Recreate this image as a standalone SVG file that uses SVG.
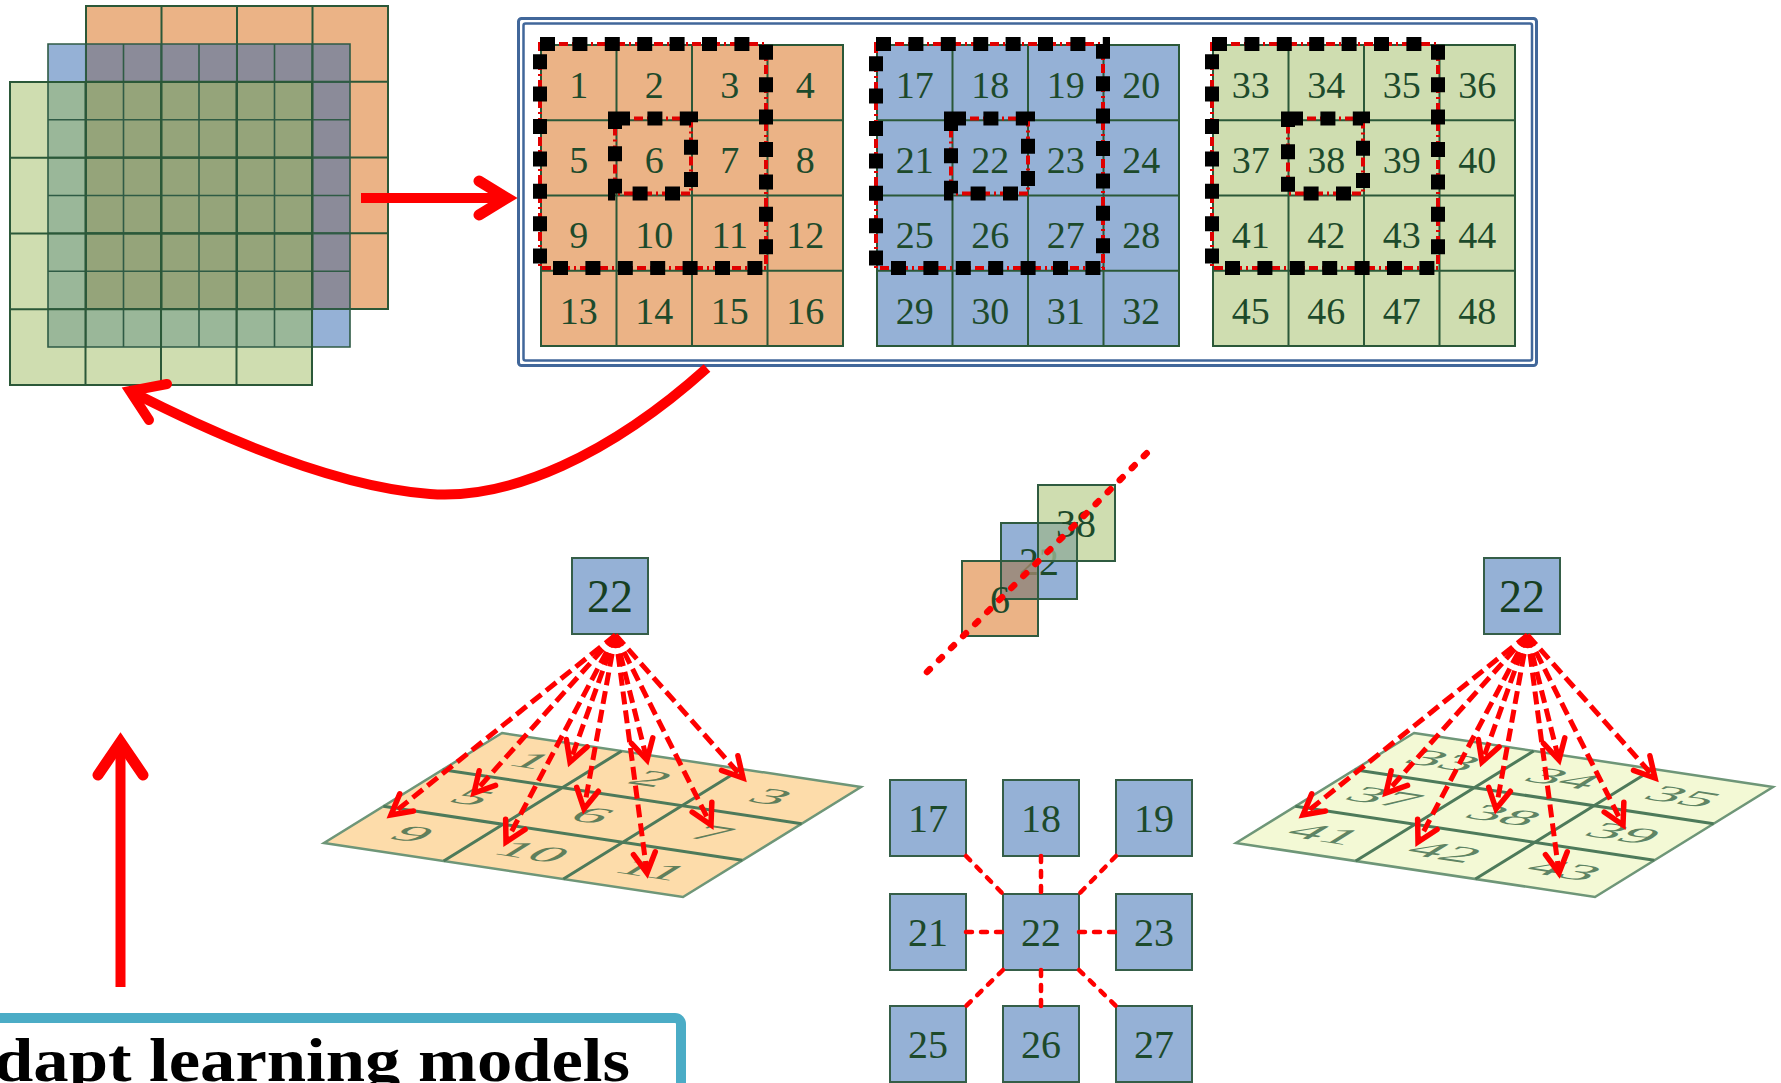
<svg xmlns="http://www.w3.org/2000/svg" width="1781" height="1083" viewBox="0 0 1781 1083">
<defs>
<style>
.num{font-family:"Liberation Serif","Times New Roman",serif;fill:#1D4A2B;text-anchor:middle}
.g38{font-size:38px}
.g40{font-size:40px}
.pl{font-size:32px;fill:#3A6848;opacity:.8}
.gl{fill:none;stroke:#2B5838;stroke-width:2}
.bl{fill:none;stroke:#2F5B45;stroke-width:1.6}
.fb{fill:none;stroke:#000;stroke-width:14;stroke-dasharray:15 17.4}
.fr{fill:none;stroke:#E00000;stroke-width:4;stroke-dasharray:9 4 2 4}
.box{fill:#95B1D6;stroke:#355E48;stroke-width:2}
.ol{fill:none;stroke:#2F5B40;stroke-width:2}
.fan{fill:none;stroke:#FF0000;stroke-width:5;stroke-dasharray:13 6;marker-end:url(#ah)}
.nb{fill:none;stroke:#FF0000;stroke-width:4.5;stroke-dasharray:6 9;stroke-linecap:round}
.red{fill:none;stroke:#FF0000;stroke-width:10}
.head{fill:none;stroke:#FF0000;stroke-linecap:round;stroke-linejoin:miter;stroke-miterlimit:10}
</style>
<marker id="ah" markerUnits="userSpaceOnUse" viewBox="-28 -18 38 36" markerWidth="38" markerHeight="36" refX="0" refY="0" orient="auto" overflow="visible">
<path d="M-20,-11 L0,0 L-20,11" fill="none" stroke="#FF0000" stroke-width="5.5" stroke-linecap="round"/>
</marker>
</defs>
<rect width="1781" height="1083" fill="#fff"/>

<g id="layers">
<rect x="86" y="6" width="302" height="38" fill="#EBB386"/>
<rect x="350" y="44" width="38" height="265" fill="#EBB386"/>
<rect x="48" y="44" width="38" height="38" fill="#95B1D6"/>
<rect x="312" y="309" width="38" height="38" fill="#95B1D6"/>
<rect x="86" y="44" width="264" height="38" fill="#8B8B99"/>
<rect x="312" y="82" width="38" height="227" fill="#8B8B99"/>
<rect x="10" y="82" width="38" height="303" fill="#CFDDB0"/>
<rect x="48" y="347" width="264" height="38" fill="#CFDDB0"/>
<rect x="48" y="82" width="38" height="265" fill="#9AB799"/>
<rect x="86" y="309" width="226" height="38" fill="#9AB799"/>
<rect x="86" y="82" width="226" height="227" fill="#95A47A"/>
<path class="gl" d="M86,6H388V309H86Z M161.5,6V309 M237,6V309 M312.5,6V309 M86,81.75H388 M86,157.5H388 M86,233.25H388"/>
<path class="bl" d="M48,44H350V347H48Z M85.75,44V347 M123.5,44V347 M161.25,44V347 M199,44V347 M236.75,44V347 M274.5,44V347 M312.25,44V347 M48,81.9H350 M48,119.75H350 M48,157.6H350 M48,195.5H350 M48,233.4H350 M48,271.25H350 M48,309.1H350"/>
<path class="gl" d="M10,82H312V385H10Z M85.5,82V385 M161,82V385 M236.5,82V385 M10,157.75H312 M10,233.5H312 M10,309.25H312"/>
</g>

<g id="frame-box">
<rect x="518.5" y="18.5" width="1018" height="347" rx="3" fill="none" stroke="#41679A" stroke-width="3"/>
<rect x="523.5" y="23.5" width="1008.5" height="337" rx="2" fill="none" stroke="#41679A" stroke-width="2.5"/>
</g>

<g id="grid-orange" transform="translate(541,45)">
<rect x="0" y="0" width="302" height="301" fill="#EBB386"/>
<path class="gl" d="M0,0H302V301H0Z M75.5,0V301 M151,0V301 M226.5,0V301 M0,75.25H302 M0,150.5H302 M0,225.75H302"/>
<text class="num g38" x="37.75" y="53">1</text><text class="num g38" x="113.25" y="53">2</text><text class="num g38" x="188.75" y="53">3</text><text class="num g38" x="264.25" y="53">4</text>
<text class="num g38" x="37.75" y="128">5</text><text class="num g38" x="113.25" y="128">6</text><text class="num g38" x="188.75" y="128">7</text><text class="num g38" x="264.25" y="128">8</text>
<text class="num g38" x="37.75" y="203">9</text><text class="num g38" x="113.25" y="203">10</text><text class="num g38" x="188.75" y="203">11</text><text class="num g38" x="264.25" y="203">12</text>
<text class="num g38" x="37.75" y="279">13</text><text class="num g38" x="113.25" y="279">14</text><text class="num g38" x="188.75" y="279">15</text><text class="num g38" x="264.25" y="279">16</text>
<path class="fr" d="M-1,-1H225V223H-1Z"/><path class="fb" d="M-1,-1H225V223H-1Z"/>
<path class="fr" d="M74,73.5H150V148.5H74Z"/><path class="fb" d="M74,73.5H150V148.5H74Z"/>
</g>

<g id="grid-blue" transform="translate(877,45)">
<rect x="0" y="0" width="302" height="301" fill="#95B1D6"/>
<path class="gl" d="M0,0H302V301H0Z M75.5,0V301 M151,0V301 M226.5,0V301 M0,75.25H302 M0,150.5H302 M0,225.75H302"/>
<text class="num g38" x="37.75" y="53">17</text><text class="num g38" x="113.25" y="53">18</text><text class="num g38" x="188.75" y="53">19</text><text class="num g38" x="264.25" y="53">20</text>
<text class="num g38" x="37.75" y="128">21</text><text class="num g38" x="113.25" y="128">22</text><text class="num g38" x="188.75" y="128">23</text><text class="num g38" x="264.25" y="128">24</text>
<text class="num g38" x="37.75" y="203">25</text><text class="num g38" x="113.25" y="203">26</text><text class="num g38" x="188.75" y="203">27</text><text class="num g38" x="264.25" y="203">28</text>
<text class="num g38" x="37.75" y="279">29</text><text class="num g38" x="113.25" y="279">30</text><text class="num g38" x="188.75" y="279">31</text><text class="num g38" x="264.25" y="279">32</text>
<path class="fr" d="M-1,-1H226V223H-1Z"/><path class="fb" d="M-1,-1H226V223H-1Z"/>
<path class="fr" d="M74,73.5H151V148.5H74Z"/><path class="fb" d="M74,73.5H151V148.5H74Z"/>
</g>

<g id="grid-green" transform="translate(1213,45)">
<rect x="0" y="0" width="302" height="301" fill="#CFDDB0"/>
<path class="gl" d="M0,0H302V301H0Z M75.5,0V301 M151,0V301 M226.5,0V301 M0,75.25H302 M0,150.5H302 M0,225.75H302"/>
<text class="num g38" x="37.75" y="53">33</text><text class="num g38" x="113.25" y="53">34</text><text class="num g38" x="188.75" y="53">35</text><text class="num g38" x="264.25" y="53">36</text>
<text class="num g38" x="37.75" y="128">37</text><text class="num g38" x="113.25" y="128">38</text><text class="num g38" x="188.75" y="128">39</text><text class="num g38" x="264.25" y="128">40</text>
<text class="num g38" x="37.75" y="203">41</text><text class="num g38" x="113.25" y="203">42</text><text class="num g38" x="188.75" y="203">43</text><text class="num g38" x="264.25" y="203">44</text>
<text class="num g38" x="37.75" y="279">45</text><text class="num g38" x="113.25" y="279">46</text><text class="num g38" x="188.75" y="279">47</text><text class="num g38" x="264.25" y="279">48</text>
<path class="fr" d="M-1,-1H225V223H-1Z"/><path class="fb" d="M-1,-1H225V223H-1Z"/>
<path class="fr" d="M75,73.5H150V148.5H75Z"/><path class="fb" d="M75,73.5H150V148.5H75Z"/>
</g>

<g id="stack">
<rect x="1001" y="523" width="76" height="76" fill="#95B1D6"/>
<text class="num g40" x="1039" y="575">22</text>
<path d="M962,561H1001V599H1038V636H962Z" fill="#EBB386"/>
<rect x="1001" y="561" width="37" height="38" fill="#A0866C" opacity="0.8"/>
<path d="M1038,485H1115V561H1077V523H1038Z" fill="#CFDDB0"/>
<rect x="1038" y="523" width="39" height="38" fill="#9DB693" opacity="0.8"/>
<rect class="ol" x="1001" y="523" width="76" height="76"/>
<rect class="ol" x="962" y="561" width="76" height="75"/>
<rect class="ol" x="1038" y="485" width="77" height="76"/>
<text class="num g40" x="1000" y="613">6</text>
<text class="num g40" x="1076" y="537">38</text>
</g>

<g id="plane-left">
<g transform="matrix(1.9944,0.3,-0.9889,0.6111,502,733)">
<rect x="0" y="0" width="180" height="180" fill="#FDDCAA" stroke="#6E9678" stroke-width="2.5" vector-effect="non-scaling-stroke"/>
<path d="M60,0V180M120,0V180M0,60H180M0,120H180" fill="none" stroke="#4D7A5A" stroke-width="3" vector-effect="non-scaling-stroke"/>
<text class="num pl" x="30" y="41">1</text><text class="num pl" x="90" y="41">2</text><text class="num pl" x="150" y="41">3</text>
<text class="num pl" x="30" y="101">5</text><text class="num pl" x="90" y="101">6</text><text class="num pl" x="150" y="101">7</text>
<text class="num pl" x="30" y="161">9</text><text class="num pl" x="90" y="161">10</text><text class="num pl" x="150" y="161">11</text>
</g>
</g>

<g id="plane-right">
<g transform="translate(912,0) matrix(1.9944,0.3,-0.9889,0.6111,502,733)">
<rect x="0" y="0" width="180" height="180" fill="#F3F9D5" stroke="#6E9678" stroke-width="2.5" vector-effect="non-scaling-stroke"/>
<path d="M60,0V180M120,0V180M0,60H180M0,120H180" fill="none" stroke="#4D7A5A" stroke-width="3" vector-effect="non-scaling-stroke"/>
<text class="num pl" x="30" y="41">33</text><text class="num pl" x="90" y="41">34</text><text class="num pl" x="150" y="41">35</text>
<text class="num pl" x="30" y="101">37</text><text class="num pl" x="90" y="101">38</text><text class="num pl" x="150" y="101">39</text>
<text class="num pl" x="30" y="161">41</text><text class="num pl" x="90" y="161">42</text><text class="num pl" x="150" y="161">43</text>
</g>
</g>

<g id="node-22-left">
<rect class="box" x="572" y="558" width="76" height="76"/>
<text class="num" x="610" y="612" font-size="46" style="fill:#173F22">22</text>
</g>
<g id="node-22-right">
<rect class="box" x="1484" y="558" width="76" height="76"/>
<text class="num" x="1522" y="612" font-size="46" style="fill:#173F22">22</text>
</g>

<g id="neighbors">
<g id="n17"><rect class="box" x="890" y="780" width="76" height="76"/><text class="num g40" x="928" y="832">17</text></g>
<g id="n18"><rect class="box" x="1003" y="780" width="76" height="76"/><text class="num g40" x="1041" y="832">18</text></g>
<g id="n19"><rect class="box" x="1116" y="780" width="76" height="76"/><text class="num g40" x="1154" y="832">19</text></g>
<g id="n21"><rect class="box" x="890" y="894" width="76" height="76"/><text class="num g40" x="928" y="946">21</text></g>
<g id="n22"><rect class="box" x="1003" y="894" width="76" height="76"/><text class="num g40" x="1041" y="946">22</text></g>
<g id="n23"><rect class="box" x="1116" y="894" width="76" height="76"/><text class="num g40" x="1154" y="946">23</text></g>
<g id="n25"><rect class="box" x="890" y="1006" width="76" height="76"/><text class="num g40" x="928" y="1058">25</text></g>
<g id="n26"><rect class="box" x="1003" y="1006" width="76" height="76"/><text class="num g40" x="1041" y="1058">26</text></g>
<g id="n27"><rect class="box" x="1116" y="1006" width="76" height="76"/><text class="num g40" x="1154" y="1058">27</text></g>
</g>

<g id="caption">
<rect x="-20" y="1018" width="701" height="120" rx="6" fill="#fff" stroke="#4BACC6" stroke-width="10"/>
<text x="-6" y="1081" font-family="Liberation Serif, Times New Roman, serif" font-weight="bold" font-size="62" textLength="636" lengthAdjust="spacingAndGlyphs" fill="#000">dapt learning models</text>
</g>

<g id="connectors">
<path class="red" d="M361,198H506"/>
<path class="head" stroke-width="11" d="M479,181L507,198L479,215"/>
<path class="red" d="M707,368C610,455 510,500 430,494C340,487 230,442 132,392"/>
<path class="head" stroke-width="10" d="M167,384L130,391L149,420"/>
<path class="red" stroke-width="11" d="M120.5,987V748"/>
<path class="head" stroke-width="11" d="M98,775L120.5,742L143,775"/>
<path d="M927,672L1153,447" fill="none" stroke="#FF0000" stroke-width="6.5" stroke-dasharray="4 13" stroke-linecap="round"/>
<path class="nb" d="M966,856L1003,894"/>
<path class="nb" d="M1041,856V894"/>
<path class="nb" d="M1116,856L1079,894"/>
<path class="nb" d="M966,932H1003"/>
<path class="nb" d="M1079,932H1116"/>
<path class="nb" d="M1003,970L966,1006"/>
<path class="nb" d="M1041,970V1006"/>
<path class="nb" d="M1079,970L1116,1006"/>
<g id="fan-left">
<path class="fan" d="M615.5,635L391,815"/>
<path class="fan" d="M615.5,635L474,793"/>
<path class="fan" d="M615.5,635L570,762"/>
<path class="fan" d="M615.5,635L506,842"/>
<path class="fan" d="M615.5,635L584,809"/>
<path class="fan" d="M615.5,635L647,760"/>
<path class="fan" d="M615.5,635L647,873"/>
<path class="fan" d="M615.5,635L711,825"/>
<path class="fan" d="M615.5,635L743,778"/>
</g>
<g id="fan-right" transform="translate(912,0)">
<path class="fan" d="M615.5,635L391,815"/>
<path class="fan" d="M615.5,635L474,793"/>
<path class="fan" d="M615.5,635L570,762"/>
<path class="fan" d="M615.5,635L506,842"/>
<path class="fan" d="M615.5,635L584,809"/>
<path class="fan" d="M615.5,635L647,760"/>
<path class="fan" d="M615.5,635L647,873"/>
<path class="fan" d="M615.5,635L711,825"/>
<path class="fan" d="M615.5,635L743,778"/>
</g>
</g>
</svg>
